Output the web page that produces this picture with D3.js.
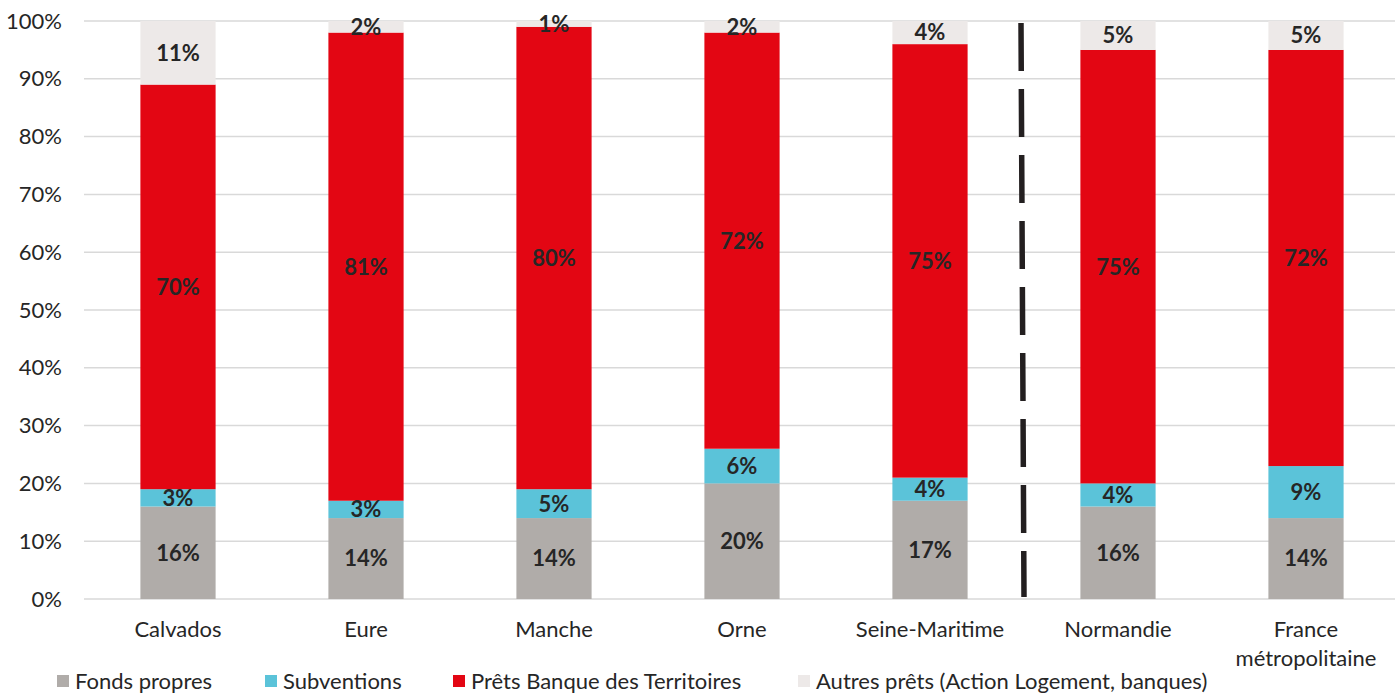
<!DOCTYPE html>
<html><head><meta charset="utf-8">
<script src="https://cdn.jsdelivr.net/npm/d3@7"></script>
<style>body{margin:0;background:#fff}text{font-family:Lato,"Open Sans",sans-serif}</style>
</head><body><svg id="c" width="1395" height="693"></svg>
<script>
const categories = ["Calvados","Eure","Manche","Orne","Seine-Maritime","Normandie","France métropolitaine"];
const seriesNames = ["Fonds propres","Subventions","Prêts Banque des Territoires","Autres prêts (Action Logement, banques)"];
const fondsPropres = [16,14,14,20,17,16,14];
const subventions = [3,3,5,6,4,4,9];
const pretsBanque = [70,81,80,72,75,75,72];
const autresPrets = [11,2,1,2,4,5,5];
const yTicks = [0,10,20,30,40,50,60,70,80,90,100];
const colors = ["#b0aca9","#5bc3d9","#e30613","#ede9e8"];

const FS = 22;
const svg = d3.select("#c");
const x = d3.scaleBand().domain(categories).range([84,1400]).paddingInner(0.6).paddingOuter(0.3);
const y = d3.scaleLinear().domain([0,100]).range([599,21]);

// gridlines
svg.append("g").selectAll("line").data(yTicks).join("line")
  .attr("x1",84).attr("x2",1395).attr("y1",d=>y(d)).attr("y2",d=>y(d))
  .attr("stroke","#d9d9d9").attr("stroke-width",1.5);

// y axis labels
const yAxis = d3.axisLeft(y).tickValues(yTicks).tickFormat(d=>d+"%").tickSize(0).tickPadding(0);
const ga = svg.append("g").attr("transform","translate(62,0)").call(yAxis);
ga.select(".domain").remove();
ga.selectAll("text").attr("font-size",FS).attr("fill","#262626").attr("font-family","Lato,'Open Sans',sans-serif");

const data = categories.map((c,i)=>({cat:c,v:[fondsPropres[i],subventions[i],pretsBanque[i],autresPrets[i]]}));
const stack = d3.stack().keys([0,1,2,3]).value((d,k)=>d.v[k]);
const layers = stack(data);

const g = svg.append("g");
layers.forEach((layer,k)=>{
  g.append("g").selectAll("rect").data(layer).join("rect")
    .attr("x",d=>x(d.data.cat)).attr("width",x.bandwidth())
    .attr("y",d=>y(d[1])).attr("height",d=>y(d[0])-y(d[1]))
    .attr("fill",colors[k]);
});
layers.forEach((layer,k)=>{
  g.append("g").selectAll("text").data(layer).join("text")
    .attr("x",d=>x(d.data.cat)+x.bandwidth()/2)
    .attr("y",d=>(y(d[0])+y(d[1]))/2)
    .attr("dy","0.36em").attr("text-anchor","middle")
    .attr("font-size",FS).attr("font-weight","bold").attr("fill","#262626")
    .text(d=>(d[1]-d[0])+"%");
});

// dashed separator
const sepX = (x("Seine-Maritime")+x.bandwidth()+x("Normandie"))/2 - 3;
svg.append("line").attr("x1",sepX).attr("x2",sepX+3).attr("y1",y(100)+2).attr("y2",y(0)-2)
  .attr("stroke","#231f20").attr("stroke-width",5.5).attr("stroke-dasharray","48,18");

// x labels
const xl = svg.append("g");
categories.forEach(c=>{
  const t = xl.append("text").attr("x",x(c)+x.bandwidth()/2).attr("y",637)
    .attr("text-anchor","middle").attr("font-size",FS).attr("fill","#262626");
  const parts = c==="France métropolitaine" ? ["France","métropolitaine"] : [c];
  parts.forEach((p,i)=>t.append("tspan").attr("x",x(c)+x.bandwidth()/2).attr("dy",i?29:0).text(p));
});

// legend
const legX = [57,265,453,798];
const lg = svg.append("g");
seriesNames.forEach((s,i)=>{
  lg.append("rect").attr("x",legX[i]).attr("y",675).attr("width",12).attr("height",12).attr("fill",colors[i]);
  lg.append("text").attr("x",legX[i]+18).attr("y",689).attr("font-size",FS).attr("fill","#262626").text(s);
});
</script></body></html>
